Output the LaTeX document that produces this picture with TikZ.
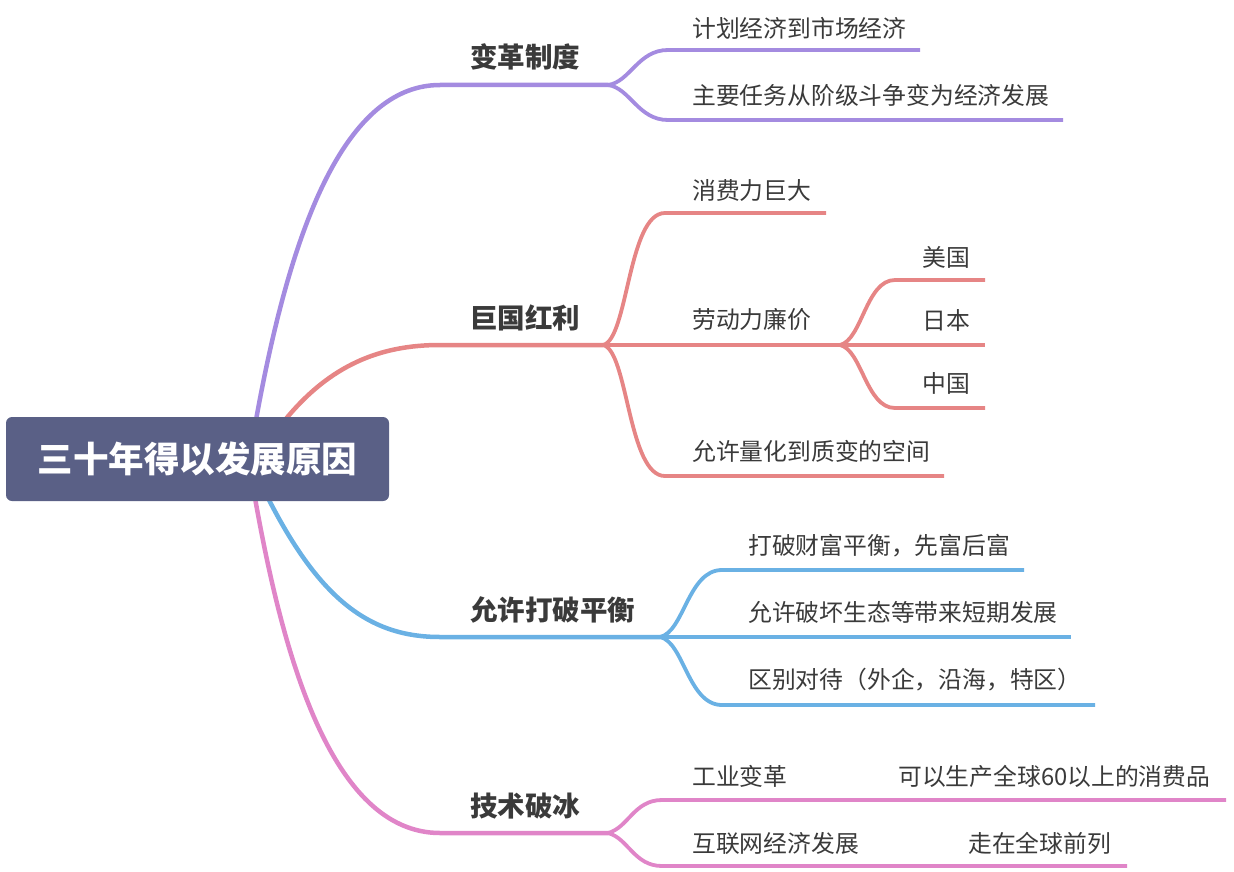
\documentclass[tikz,border=0pt]{standalone}
\usepackage{fontspec}
\newfontfamily\cjk{Noto Sans CJK SC}
\definecolor{rootc}{HTML}{5A6086}
\definecolor{purp}{HTML}{A48BE0}
\definecolor{redc}{HTML}{E68585}
\definecolor{bluec}{HTML}{6AB1E4}
\definecolor{pinkc}{HTML}{E085C8}
\definecolor{txt}{HTML}{3A3A3A}
\begin{document}
\begin{tikzpicture}[x=1pt,y=-1pt,
  mainline/.style={line width=4.5pt,line cap=round},
  subline/.style={line width=3.8pt,line cap=butt},
  topic/.style={anchor=west,inner sep=0pt,text=txt,font=\cjk\bfseries\fontsize{27.5}{30}\selectfont},
  leaf/.style={anchor=west,inner sep=0pt,text=txt,font=\cjk\fontsize{23.8}{27}\selectfont},
  rootbox/.style={rectangle,rounded corners=6pt,fill=rootc,minimum width=383pt,minimum height=84pt,inner sep=0pt,text=white,font=\cjk\bfseries\fontsize{35.5}{38}\selectfont}]
\useasboundingbox (0,0) rectangle (1234,872);
% coordinates
\coordinate (r1) at (256,420);
\coordinate (r2) at (285,420);
\coordinate (r3) at (268,498);
\coordinate (r4) at (255,498);
\coordinate (m1) at (440,85);  \coordinate (j1) at (608,85);
\coordinate (m2) at (440,345); \coordinate (j2) at (603,345);
\coordinate (m3) at (440,637); \coordinate (j3) at (660,637);
\coordinate (m4) at (440,833); \coordinate (j4) at (608,833);
% purple
\draw[purp,mainline] (r1) .. controls (285,260) and (335,85) .. (m1) -- (j1);
\coordinate (p1s) at (668,50); \coordinate (p1e) at (920,50);
\coordinate (p2s) at (668,120); \coordinate (p2e) at (1063,120);
\draw[purp,subline] (j1) .. controls (630,82) and (638,50) .. (p1s) -- (p1e);
\draw[purp,subline] (j1) .. controls (630,88) and (638,120) .. (p2s) -- (p2e);
% red
\draw[redc,mainline] (r2) .. controls (330,365) and (380,345) .. (m2) -- (j2);
\coordinate (q1s) at (665,213); \coordinate (q1e) at (826,213);
\coordinate (q2) at (840,345);
\coordinate (q3s) at (665,476); \coordinate (q3e) at (944,476);
\draw[redc,subline] (j2) .. controls (628,340) and (628,213) .. (q1s) -- (q1e);
\draw[redc,subline] (j2) -- (q2);
\draw[redc,subline] (j2) .. controls (628,350) and (628,476) .. (q3s) -- (q3e);
\coordinate (s1s) at (895,280); \coordinate (s1e) at (985,280);
\coordinate (s2e) at (985,345);
\coordinate (s3s) at (895,408); \coordinate (s3e) at (985,408);
\draw[redc,subline] (q2) .. controls (862,340) and (866,280) .. (s1s) -- (s1e);
\draw[redc,subline] (q2) -- (s2e);
\draw[redc,subline] (q2) .. controls (862,350) and (866,408) .. (s3s) -- (s3e);
% blue
\draw[bluec,mainline] (r3) .. controls (320,600) and (370,637) .. (m3) -- (j3);
\coordinate (b1s) at (722,570); \coordinate (b1e) at (1024,570);
\coordinate (b2e) at (1071,637);
\coordinate (b3s) at (722,705); \coordinate (b3e) at (1095,705);
\draw[bluec,subline] (j3) .. controls (684,632) and (688,570) .. (b1s) -- (b1e);
\draw[bluec,subline] (j3) -- (b2e);
\draw[bluec,subline] (j3) .. controls (684,642) and (688,705) .. (b3s) -- (b3e);
% pink
\draw[pinkc,mainline] (r4) .. controls (282,650) and (330,833) .. (m4) -- (j4);
\coordinate (k1s) at (662,800); \coordinate (k1e) at (1226,800);
\coordinate (k2s) at (662,866); \coordinate (k2e) at (1127,866);
\draw[pinkc,subline] (j4) .. controls (628,828) and (634,800) .. (k1s) -- (k1e);
\draw[pinkc,subline] (j4) .. controls (628,838) and (634,866) .. (k2s) -- (k2e);
% root
\node[rootbox] (root) at (197.5,459) {三十年得以发展原因};
% topics
\node[topic] (t1) at (470,57) {变革制度};
\node[topic] (t2) at (470,318) {巨国红利};
\node[topic] (t3) at (470,610) {允许打破平衡};
\node[topic] (t4) at (470,806) {技术破冰};
% leaves
\node[leaf] (a1) at (692,28) {计划经济到市场经济};
\node[leaf] (a2) at (692,95) {主要任务从阶级斗争变为经济发展};
\node[leaf] (c1) at (692,190) {消费力巨大};
\node[leaf] (c2) at (692,320) {劳动力廉价};
\node[leaf] (d1) at (922,257) {美国};
\node[leaf] (d2) at (922,320) {日本};
\node[leaf] (d3) at (922,383) {中国};
\node[leaf] (c3) at (692,451) {允许量化到质变的空间};
\node[leaf] (e1) at (748,546) {打破财富平衡，先富后富};
\node[leaf] (e2) at (748,612) {允许破坏生态等带来短期发展};
\node[leaf] (e3) at (748,680) {区别对待（外企，沿海，特区）};
\node[leaf] (f1) at (692,776) {工业变革};
\node[leaf] (f1b) at (898,776) {可以生产全球60以上的消费品};
\node[leaf] (f2) at (692,843) {互联网经济发展};
\node[leaf] (f2b) at (968,843) {走在全球前列};
\end{tikzpicture}
\end{document}
